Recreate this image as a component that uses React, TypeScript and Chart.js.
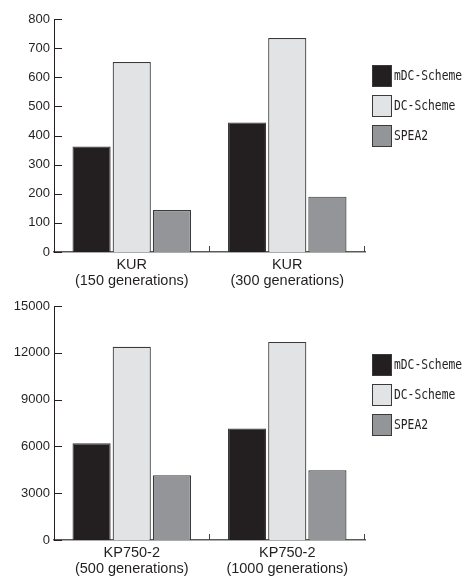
import React, { useEffect, useRef } from 'react';
import { Chart, registerables } from 'chart.js';

Chart.register(...registerables);

const seriesNames = ['mDC-Scheme', 'DC-Scheme', 'SPEA2'];
const seriesColors = ['#231f20', '#e2e3e5', '#939598'];

const kurCategories = [['KUR', '(150 generations)'], ['KUR', '(300 generations)']];
const kurMDC = [362, 445];
const kurDC = [652, 735];
const kurSPEA2 = [144, 190];
const kurMax = 800;
const kurStep = 100;

const kpCategories = [['KP750-2', '(500 generations)'], ['KP750-2', '(1000 generations)']];
const kpMDC = [6200, 7140];
const kpDC = [12380, 12700];
const kpSPEA2 = [4150, 4470];
const kpMax = 15000;
const kpStep = 3000;

const axisDecor = {
  id: 'axisDecor',
  afterDatasetsDraw(chart: any) {
    const ctx = chart.ctx;
    const xs = chart.scales.x;
    const ys = chart.scales.y;
    const { left, bottom } = chart.chartArea;
    ctx.save();
    ctx.strokeStyle = '#231f20';
    ctx.lineWidth = 1;
    ys.ticks.forEach((_t: any, i: number) => {
      const py = Math.round(ys.getPixelForTick(i)) + 0.5;
      ctx.beginPath();
      ctx.moveTo(left, py);
      ctx.lineTo(left + 8, py);
      ctx.stroke();
    });
    ctx.strokeStyle = '#444';
    const n = xs.ticks.length;
    for (let i = 1; i <= n; i++) {
      const px = Math.round(xs.getPixelForValue(i - 0.5)) - 0.5;
      ctx.beginPath();
      ctx.moveTo(px, bottom);
      ctx.lineTo(px, bottom - 6);
      ctx.stroke();
    }
    ctx.restore();
  },
};

const sideLegend = {
  id: 'sideLegend',
  afterDraw(chart: any) {
    const ctx = chart.ctx;
    const { right, top } = chart.chartArea;
    const opts = chart.options.plugins.sideLegend || {};
    const y0 = top + (opts.offset ?? 46);
    const x0 = right + 7;
    ctx.save();
    chart.data.datasets.forEach((ds: any, i: number) => {
      const by = Math.round(y0 + i * 30);
      ctx.fillStyle = ds.backgroundColor;
      ctx.fillRect(x0, by, 20, 22);
      ctx.strokeStyle = '#3a3a3a';
      ctx.lineWidth = 1;
      ctx.strokeRect(x0 + 0.5, by + 0.5, 19, 21);
      ctx.save();
      ctx.translate(x0 + 22, by + 11.5);
      ctx.scale(0.78, 1);
      ctx.fillStyle = '#231f20';
      ctx.font = '14.5px "DejaVu Sans Mono"';
      ctx.textBaseline = 'middle';
      ctx.textAlign = 'left';
      ctx.fillText(ds.label, 0, 0);
      ctx.restore();
    });
    ctx.restore();
  },
};

function makeConfig(
  categories: string[][],
  a: number[],
  b: number[],
  c: number[],
  max: number,
  step: number,
  topPad: number,
  xHeight: number,
  legendOffset: number
): any {
  const values = [a, b, c];
  return {
    type: 'bar',
    data: {
      labels: categories,
      datasets: seriesNames.map((name, i) => ({
        label: name,
        data: values[i],
        backgroundColor: seriesColors[i],
        borderColor: '#3a3a3a',
        borderWidth: 1.2,
        categoryPercentage: 0.775,
        barPercentage: 0.95,
      })),
    },
    options: {
      responsive: false,
      animation: false,
      layout: { padding: { top: topPad, right: 106, left: 0, bottom: 0 } },
      plugins: {
        legend: { display: false },
        tooltip: { enabled: false },
        sideLegend: { offset: legendOffset },
      },
      scales: {
        x: {
          grid: { display: false, drawTicks: false },
          border: { display: true, color: '#5a5a5a', width: 1.5 },
          ticks: {
            color: '#231f20',
            padding: 5,
            font: { family: '"Liberation Sans", Arial, sans-serif', size: 14.5, lineHeight: 1.1 },
          },
          afterFit(scale: any) {
            scale.height = xHeight;
          },
        },
        y: {
          min: 0,
          max,
          grid: { display: false, drawTicks: false },
          border: { display: true, color: '#231f20', width: 1 },
          ticks: {
            stepSize: step,
            color: '#231f20',
            padding: 4,
            font: { family: '"Liberation Sans", Arial, sans-serif', size: 13 },
            callback: (v: any) => String(v),
          },
          afterFit(scale: any) {
            scale.width = 54;
          },
        },
      },
    },
    plugins: [axisDecor, sideLegend],
  };
}

function BarChart({ config, height }: { config: any; height: number }) {
  const ref = useRef<HTMLCanvasElement | null>(null);
  useEffect(() => {
    if (!ref.current) return;
    const chart = new Chart(ref.current, config);
    return () => chart.destroy();
  }, [config]);
  return <canvas ref={ref} width={471} height={height} style={{ display: 'block', width: 471, height }} />;
}

const topConfig = makeConfig(kurCategories, kurMDC, kurDC, kurSPEA2, kurMax, kurStep, 19, 38, 46);
const bottomConfig = makeConfig(kpCategories, kpMDC, kpDC, kpSPEA2, kpMax, kpStep, 16, 41, 48);

export default function App() {
  return (
    <div style={{ position: 'fixed', top: 0, left: 0, width: 471, height: 581, background: '#fff' }}>
      <BarChart config={topConfig} height={290} />
      <BarChart config={bottomConfig} height={291} />
    </div>
  );
}
